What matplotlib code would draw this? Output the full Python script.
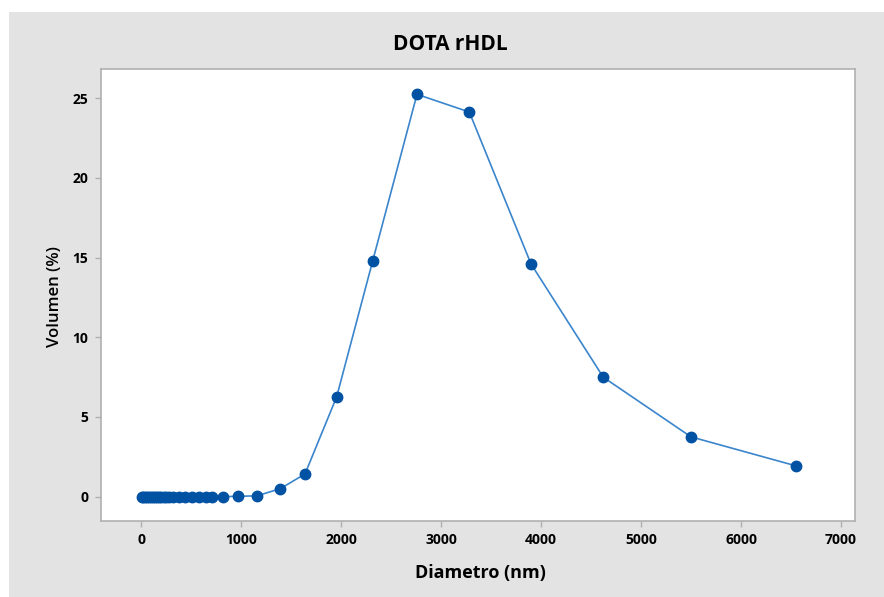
import numpy as np
import matplotlib.pyplot as plt
from matplotlib.patches import Rectangle

# size distribution
diametro = [5, 20, 40, 60, 80, 100, 120, 140, 160, 180, 200, 225, 250, 280, 320,
            377, 444, 512, 579, 646, 714, 815, 970, 1160,
            1393, 1640, 1957, 2317, 2760, 3283, 3900, 4623, 5500, 6550]
volumen = [0, 0, 0, 0, 0, 0, 0, 0, 0, 0, 0, 0, 0, 0, 0,
           0, 0, 0, 0, 0, 0, 0, 0.02, 0.05,
           0.5, 1.42, 6.27, 14.79, 25.24, 24.13, 14.6, 7.49, 3.75, 1.93]

xticks = [0, 1000, 2000, 3000, 4000, 5000, 6000, 7000]
yticks = [0, 5, 10, 15, 20, 25]

W, H = 884, 597
fig = plt.figure(figsize=(W / 100, H / 100), dpi=100)
fig.patch.set_facecolor('white')
fig.patches.append(Rectangle((9 / W, 0), 1 - 9 / W, 1 - 12 / H, transform=fig.transFigure,
                             facecolor='#e3e3e3', edgecolor='none', zorder=-10))

ax = fig.add_axes([100.7 / W, (H - 520.7) / H, (855 - 100.7) / W, (520.7 - 69.3) / H])
ax.set_facecolor('white')

ax.plot(diametro, volumen, color='#3a85cc', lw=1.2, zorder=2)
ax.plot(diametro, volumen, ls='none', marker='o', ms=7.5, color='#0252a4', mec='#0252a4', zorder=3)

ax.set_xlim(-403, 7140)
ax.set_ylim(-1.51, 26.81)
ax.set_xticks(xticks)
ax.set_yticks(yticks)
ax.set_xticklabels([str(t) for t in xticks])
ax.set_yticklabels([str(t) for t in yticks])

for s in ax.spines.values():
    s.set_color('#b0b0b0')
    s.set_linewidth(1.2)
ax.tick_params(direction='out', length=4, width=1, color='#b0b0b0', labelsize=10, pad=5)
for lab in ax.get_xticklabels() + ax.get_yticklabels():
    lab.set_fontweight('bold')
    lab.set_family('Open Sans')

fig.text(450 / W, 1 - 44 / H, 'DOTA rHDL', ha='center', va='center', fontsize=15,
         family='Open Sans', fontweight='bold')
fig.text(480 / W, 1 - 573 / H, 'Diametro (nm)', ha='center', va='center', fontsize=13,
         family='Open Sans', fontweight='bold')
fig.text(55 / W, 1 - 297 / H, 'Volumen (%)', ha='center', va='center', fontsize=12,
         family='Open Sans', fontweight='semibold', rotation=90)

fig.savefig('out.png', dpi=100)
